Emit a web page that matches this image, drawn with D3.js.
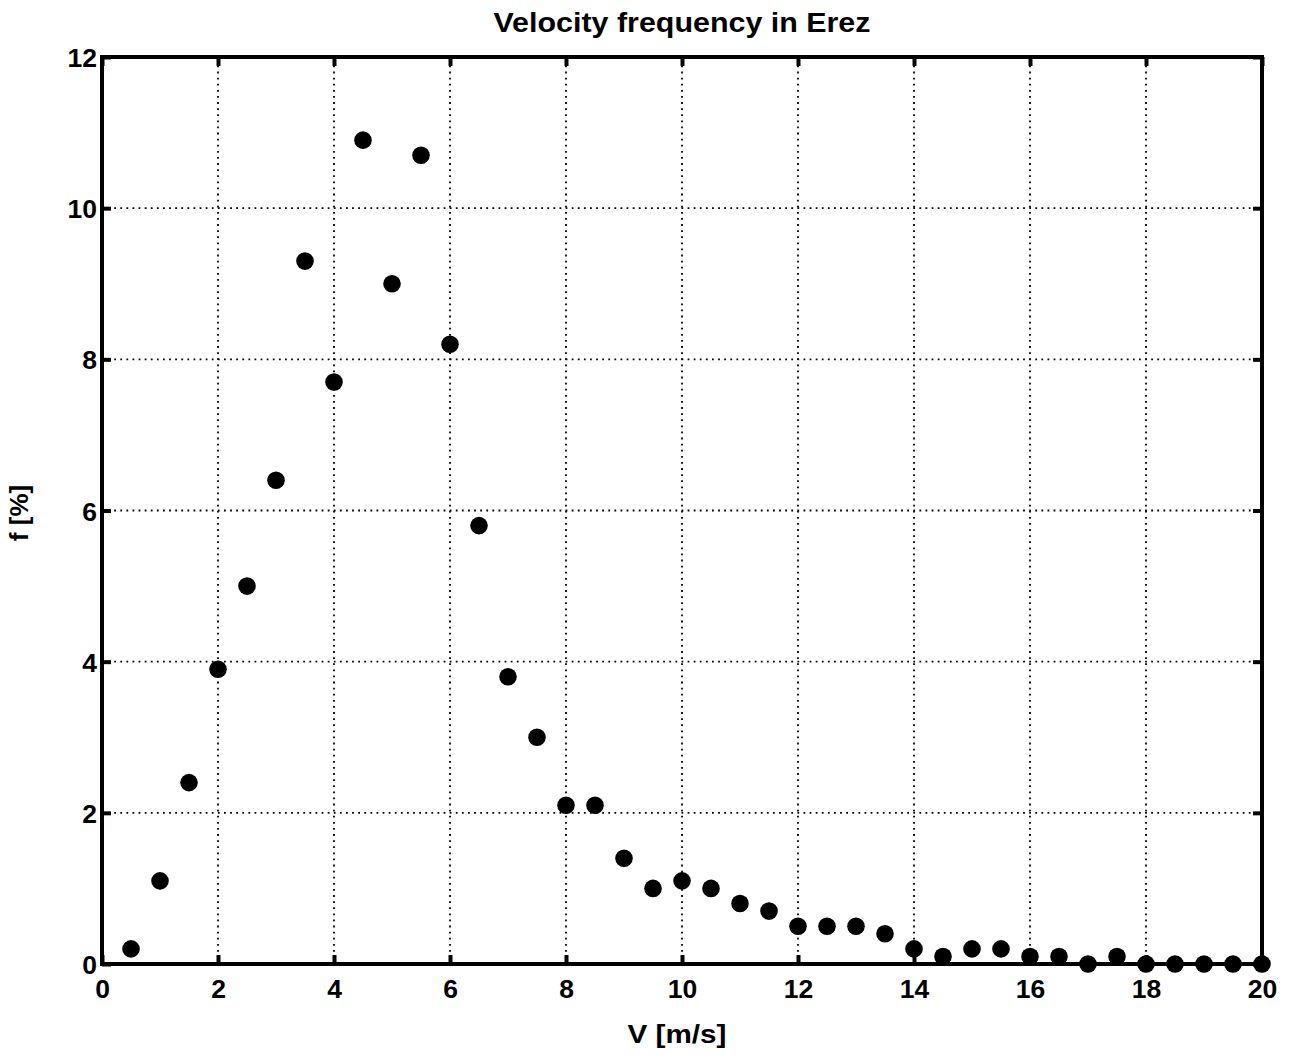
<!DOCTYPE html>
<html>
<head>
<meta charset="utf-8">
<script src="https://cdn.jsdelivr.net/npm/d3@7"></script>
<style>
  html, body { margin: 0; padding: 0; background: #fff; }
  svg { display: block; font-family: "Liberation Sans", Arial, Helvetica, sans-serif; }
</style>
</head>
<body>
<script>
// Wind speed bins [m/s] and their frequency of occurrence [%]
const speeds = [0.5, 1, 1.5, 2, 2.5, 3, 3.5, 4, 4.5, 5,
                5.5, 6, 6.5, 7, 7.5, 8, 8.5, 9, 9.5, 10,
                10.5, 11, 11.5, 12, 12.5, 13, 13.5, 14, 14.5, 15,
                15.5, 16, 16.5, 17, 17.5, 18, 18.5, 19, 19.5, 20];
const freq = [0.2, 1.1, 2.4, 3.9, 5.0, 6.4, 9.3, 7.7, 10.9, 9.0,
              10.7, 8.2, 5.8, 3.8, 3.0, 2.1, 2.1, 1.4, 1.0, 1.1,
              1.0, 0.8, 0.7, 0.5, 0.5, 0.5, 0.4, 0.2, 0.1, 0.2,
              0.2, 0.1, 0.1, 0.0, 0.1, 0.0, 0.0, 0.0, 0.0, 0.0];
const xTicks = [0, 2, 4, 6, 8, 10, 12, 14, 16, 18, 20];
const yTicks = [0, 2, 4, 6, 8, 10, 12];
const titleText = "Velocity frequency in Erez";
const xLabelText = "V [m/s]";
const yLabelText = "f [%]";

const W = 1290, H = 1062;
const svg = d3.select("body").append("svg").attr("width", W).attr("height", H);

const x = d3.scaleLinear().domain([0, 20]).range([102, 1262]);
const y = d3.scaleLinear().domain([0, 12]).range([964, 57]);

// dotted grid
const grid = svg.append("g")
  .attr("stroke", "#000").attr("stroke-width", 1.8)
  .attr("stroke-dasharray", "1.8,4.3");
grid.selectAll("line.gx").data(xTicks.slice(1, -1)).join("line")
  .attr("class", "gx")
  .attr("x1", d => x(d)).attr("x2", d => x(d))
  .attr("y1", y(0)).attr("y2", y(12));
grid.selectAll("line.gy").data(yTicks.slice(1, -1)).join("line")
  .attr("class", "gy")
  .attr("x1", x(0)).attr("x2", x(20))
  .attr("y1", d => y(d)).attr("y2", d => y(d));

// data points
svg.append("g").selectAll("circle").data(speeds).join("circle")
  .attr("cx", d => x(d))
  .attr("cy", (d, i) => y(freq[i]))
  .attr("r", 8.8)
  .attr("fill", "#000");

// axes with inward ticks
function styleAxis(g) {
  g.select(".domain").remove();
  g.selectAll(".tick line").attr("stroke", "#000").attr("stroke-width", 4);
  g.selectAll(".tick text")
    .attr("fill", "#000")
    .attr("font-size", 26.5)
    .attr("font-weight", "bold");
}

svg.append("g")
  .attr("transform", `translate(0,${y(0)})`)
  .call(d3.axisBottom(x).tickValues(xTicks).tickFormat(d3.format("d")).tickSize(-9))
  .call(styleAxis)
  .call(g => g.selectAll(".tick text").attr("y", 34).attr("dy", null));

svg.append("g")
  .attr("transform", `translate(0,${y(12)})`)
  .call(d3.axisTop(x).tickValues(xTicks).tickFormat("").tickSize(-9))
  .call(styleAxis);

svg.append("g")
  .attr("transform", `translate(${x(0)},0)`)
  .call(d3.axisLeft(y).tickValues(yTicks).tickFormat(d3.format("d")).tickSize(-9).tickPadding(6))
  .call(styleAxis)
  .call(g => g.selectAll(".tick text").attr("x", -5).attr("dy", "0.36em"));

svg.append("g")
  .attr("transform", `translate(${x(20)},0)`)
  .call(d3.axisRight(y).tickValues(yTicks).tickFormat("").tickSize(-9))
  .call(styleAxis);

// frame
svg.append("rect")
  .attr("x", x(0)).attr("y", y(12))
  .attr("width", x(20) - x(0)).attr("height", y(0) - y(12))
  .attr("fill", "none").attr("stroke", "#000").attr("stroke-width", 4);

// title and axis labels
svg.append("text")
  .attr("x", (x(0) + x(20)) / 2).attr("y", 32)
  .attr("text-anchor", "middle")
  .attr("font-size", 28).attr("font-weight", "bold")
  .attr("textLength", 377).attr("lengthAdjust", "spacingAndGlyphs")
  .text(titleText);

svg.append("text")
  .attr("x", 677).attr("y", 1043)
  .attr("text-anchor", "middle")
  .attr("font-size", 26).attr("font-weight", "bold")
  .attr("textLength", 99).attr("lengthAdjust", "spacingAndGlyphs")
  .text(xLabelText);

svg.append("text")
  .attr("transform", "translate(28,513) rotate(-90)")
  .attr("text-anchor", "middle")
  .attr("font-size", 26).attr("font-weight", "bold")
  .text(yLabelText);
</script>
</body>
</html>
